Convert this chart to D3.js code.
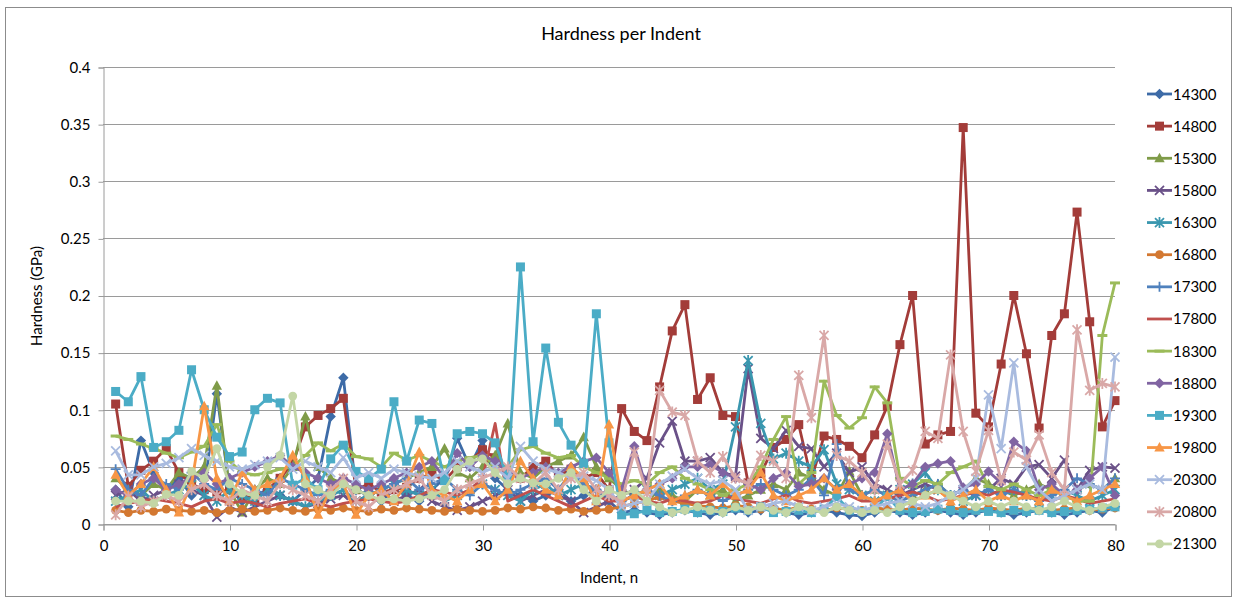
<!DOCTYPE html>
<html>
<head>
<meta charset="utf-8">
<script src="https://cdn.jsdelivr.net/npm/d3@7"></script>
<style>
  html, body { margin: 0; padding: 0; background: #fff; }
  svg { display: block; font-family: Lato, "Open Sans", "Liberation Sans", sans-serif; }
</style>
</head>
<body>
<svg id="chart" width="1235" height="601"></svg>
<script>
// Indent numbers 1..80
const indents = d3.range(1, 81);

const seriesNames = ["14300","14800","15300","15800","16300","16800","17300","17800",
                     "18300","18800","19300","19800","20300","20800","21300"];

const yTicks = [0, 0.05, 0.1, 0.15, 0.2, 0.25, 0.3, 0.35, 0.4];
const yTickLabels = ["0","0.05","0.1","0.15","0.2","0.25","0.3","0.35","0.4"];
const xTicks = [0, 10, 20, 30, 40, 50, 60, 70, 80];

// Hardness (GPa) per indent, one array per load
const h14300 = [
  0.030,0.015,0.073,0.045,0.030,0.040,0.025,0.030,0.114,0.030,
  0.020,0.025,0.030,0.025,0.020,0.030,0.040,0.094,0.128,0.030,
  0.025,0.020,0.030,0.025,0.020,0.030,0.040,0.075,0.050,0.073,
  0.040,0.030,0.025,0.020,0.025,0.030,0.020,0.025,0.030,0.020,
  0.010,0.012,0.010,0.008,0.010,0.012,0.010,0.008,0.010,0.012,
  0.010,0.012,0.015,0.010,0.008,0.010,0.012,0.010,0.008,0.007,
  0.010,0.012,0.010,0.008,0.010,0.012,0.010,0.008,0.010,0.012,
  0.010,0.008,0.010,0.012,0.010,0.008,0.010,0.012,0.010,0.015];
const h14800 = [
  0.105,0.033,0.047,0.055,0.066,0.045,0.035,0.030,0.028,0.030,
  0.025,0.022,0.030,0.040,0.053,0.085,0.095,0.101,0.110,0.030,
  0.035,0.028,0.030,0.032,0.040,0.044,0.038,0.050,0.055,0.065,
  0.058,0.045,0.040,0.050,0.055,0.042,0.048,0.040,0.045,0.030,
  0.101,0.081,0.073,0.120,0.169,0.192,0.109,0.128,0.095,0.094,
  0.036,0.044,0.067,0.074,0.087,0.039,0.077,0.074,0.068,0.058,
  0.078,0.103,0.157,0.200,0.070,0.078,0.081,0.347,0.097,0.085,
  0.140,0.200,0.149,0.084,0.165,0.184,0.273,0.177,0.085,0.108];
const h15300 = [
  0.040,0.030,0.025,0.035,0.030,0.045,0.040,0.050,0.121,0.030,
  0.010,0.030,0.040,0.035,0.050,0.094,0.050,0.040,0.035,0.030,
  0.025,0.030,0.035,0.040,0.045,0.050,0.066,0.045,0.040,0.050,
  0.060,0.088,0.045,0.040,0.050,0.055,0.060,0.076,0.050,0.040,
  0.030,0.025,0.020,0.030,0.025,0.020,0.030,0.025,0.030,0.020,
  0.025,0.030,0.035,0.030,0.045,0.040,0.030,0.025,0.046,0.025,
  0.030,0.025,0.020,0.025,0.030,0.035,0.025,0.030,0.040,0.035,
  0.030,0.025,0.030,0.035,0.030,0.025,0.030,0.035,0.030,0.040];
const h15800 = [
  0.025,0.030,0.020,0.025,0.030,0.035,0.030,0.025,0.006,0.015,
  0.010,0.015,0.020,0.025,0.020,0.015,0.018,0.022,0.025,0.020,
  0.025,0.030,0.020,0.025,0.030,0.020,0.015,0.012,0.015,0.020,
  0.025,0.030,0.020,0.025,0.030,0.025,0.020,0.010,0.015,0.020,
  0.025,0.030,0.040,0.071,0.090,0.055,0.055,0.058,0.045,0.042,
  0.136,0.075,0.066,0.082,0.068,0.066,0.050,0.062,0.045,0.050,
  0.035,0.030,0.025,0.030,0.035,0.030,0.025,0.030,0.025,0.030,
  0.040,0.035,0.050,0.052,0.040,0.056,0.030,0.047,0.050,0.049];
const h16300 = [
  0.020,0.025,0.030,0.020,0.025,0.030,0.035,0.025,0.020,0.030,
  0.025,0.020,0.030,0.025,0.020,0.015,0.020,0.025,0.030,0.020,
  0.025,0.030,0.035,0.030,0.025,0.030,0.020,0.025,0.030,0.035,
  0.030,0.025,0.020,0.030,0.035,0.025,0.030,0.035,0.030,0.025,
  0.020,0.025,0.030,0.025,0.030,0.035,0.040,0.030,0.035,0.085,
  0.143,0.088,0.057,0.062,0.055,0.050,0.065,0.035,0.030,0.025,
  0.020,0.025,0.030,0.035,0.045,0.030,0.025,0.020,0.025,0.030,
  0.025,0.030,0.025,0.020,0.025,0.030,0.025,0.020,0.025,0.030];
const h16800 = [
  0.012,0.010,0.012,0.011,0.013,0.012,0.011,0.012,0.010,0.012,
  0.013,0.011,0.012,0.014,0.012,0.011,0.013,0.012,0.014,0.012,
  0.011,0.013,0.012,0.014,0.013,0.012,0.011,0.013,0.012,0.011,
  0.012,0.014,0.013,0.015,0.014,0.012,0.013,0.011,0.012,0.013,
  0.015,0.018,0.020,0.024,0.020,0.018,0.016,0.015,0.014,0.016,
  0.015,0.013,0.014,0.012,0.015,0.013,0.012,0.014,0.013,0.012,
  0.014,0.013,0.012,0.014,0.013,0.012,0.014,0.013,0.012,0.014,
  0.013,0.012,0.014,0.013,0.012,0.013,0.014,0.012,0.013,0.014];
const h17300 = [
  0.048,0.030,0.025,0.040,0.035,0.030,0.045,0.035,0.030,0.040,
  0.035,0.030,0.025,0.040,0.035,0.030,0.025,0.030,0.035,0.030,
  0.025,0.030,0.035,0.040,0.030,0.035,0.040,0.030,0.025,0.035,
  0.030,0.025,0.030,0.035,0.040,0.030,0.045,0.035,0.030,0.025,
  0.020,0.025,0.030,0.025,0.020,0.025,0.030,0.025,0.020,0.025,
  0.030,0.035,0.030,0.025,0.030,0.040,0.025,0.070,0.030,0.025,
  0.030,0.025,0.020,0.025,0.030,0.035,0.025,0.030,0.025,0.030,
  0.025,0.030,0.025,0.020,0.025,0.030,0.040,0.035,0.030,0.040];
const h17800 = [
  0.015,0.018,0.020,0.022,0.020,0.018,0.015,0.020,0.022,0.018,
  0.020,0.018,0.015,0.018,0.020,0.022,0.018,0.015,0.018,0.020,
  0.022,0.020,0.018,0.020,0.025,0.030,0.028,0.025,0.030,0.040,
  0.088,0.020,0.025,0.030,0.025,0.020,0.015,0.020,0.025,0.020,
  0.020,0.025,0.020,0.018,0.022,0.020,0.018,0.020,0.025,0.022,
  0.020,0.018,0.022,0.025,0.020,0.018,0.020,0.022,0.025,0.020,
  0.020,0.022,0.025,0.028,0.025,0.020,0.022,0.025,0.028,0.025,
  0.030,0.028,0.025,0.022,0.020,0.025,0.022,0.018,0.020,0.022];
const h18300 = [
  0.077,0.074,0.070,0.066,0.062,0.058,0.063,0.068,0.087,0.055,
  0.045,0.043,0.045,0.048,0.050,0.060,0.071,0.064,0.070,0.059,
  0.057,0.050,0.062,0.056,0.060,0.055,0.050,0.055,0.058,0.060,
  0.052,0.050,0.065,0.068,0.062,0.058,0.060,0.050,0.045,0.040,
  0.035,0.038,0.035,0.045,0.050,0.040,0.035,0.030,0.025,0.030,
  0.035,0.050,0.074,0.094,0.035,0.045,0.125,0.095,0.084,0.093,
  0.120,0.106,0.040,0.033,0.038,0.035,0.045,0.050,0.055,0.033,
  0.030,0.035,0.030,0.025,0.030,0.025,0.020,0.020,0.165,0.211];
const h18800 = [
  0.030,0.025,0.035,0.040,0.030,0.035,0.040,0.045,0.035,0.040,
  0.045,0.050,0.055,0.060,0.050,0.045,0.040,0.035,0.040,0.035,
  0.030,0.035,0.040,0.045,0.050,0.055,0.040,0.062,0.050,0.060,
  0.055,0.045,0.040,0.045,0.050,0.045,0.050,0.055,0.058,0.045,
  0.030,0.068,0.030,0.035,0.040,0.050,0.050,0.052,0.045,0.040,
  0.035,0.030,0.040,0.045,0.033,0.035,0.040,0.030,0.035,0.040,
  0.045,0.079,0.030,0.035,0.050,0.053,0.055,0.032,0.035,0.046,
  0.036,0.072,0.064,0.030,0.035,0.025,0.030,0.040,0.050,0.025];
const h19300 = [
  0.116,0.107,0.129,0.067,0.072,0.082,0.135,0.100,0.076,0.059,
  0.063,0.100,0.110,0.106,0.034,0.040,0.030,0.057,0.069,0.046,
  0.040,0.048,0.107,0.055,0.091,0.088,0.038,0.079,0.081,0.079,
  0.071,0.040,0.225,0.072,0.154,0.089,0.069,0.053,0.184,0.071,
  0.008,0.009,0.012,0.010,0.011,0.013,0.010,0.012,0.011,0.014,
  0.012,0.015,0.010,0.011,0.012,0.010,0.013,0.024,0.012,0.011,
  0.013,0.024,0.012,0.010,0.011,0.013,0.012,0.010,0.012,0.011,
  0.010,0.012,0.011,0.012,0.010,0.011,0.012,0.013,0.014,0.015];
const h19800 = [
  0.043,0.025,0.035,0.050,0.030,0.010,0.035,0.103,0.040,0.020,
  0.045,0.030,0.035,0.040,0.060,0.040,0.008,0.030,0.035,0.008,
  0.025,0.030,0.020,0.035,0.063,0.030,0.025,0.020,0.030,0.035,
  0.020,0.030,0.055,0.040,0.030,0.025,0.050,0.040,0.020,0.087,
  0.020,0.025,0.030,0.035,0.020,0.025,0.030,0.025,0.035,0.025,
  0.030,0.045,0.025,0.020,0.025,0.030,0.040,0.030,0.035,0.025,
  0.020,0.025,0.030,0.020,0.025,0.030,0.020,0.025,0.030,0.020,
  0.025,0.020,0.025,0.020,0.030,0.025,0.020,0.025,0.030,0.035];
const h20300 = [
  0.064,0.043,0.043,0.050,0.053,0.058,0.066,0.060,0.055,0.050,
  0.048,0.052,0.055,0.058,0.048,0.055,0.050,0.045,0.058,0.040,
  0.045,0.040,0.048,0.045,0.042,0.040,0.045,0.055,0.050,0.045,
  0.050,0.040,0.068,0.055,0.048,0.045,0.040,0.042,0.038,0.030,
  0.015,0.018,0.020,0.035,0.042,0.048,0.040,0.035,0.038,0.030,
  0.012,0.015,0.018,0.020,0.015,0.012,0.015,0.018,0.015,0.012,
  0.015,0.018,0.020,0.018,0.015,0.018,0.025,0.030,0.040,0.113,
  0.066,0.141,0.050,0.030,0.020,0.025,0.030,0.035,0.030,0.146];
const h20800 = [
  0.008,0.024,0.015,0.020,0.025,0.020,0.030,0.035,0.025,0.020,
  0.030,0.025,0.020,0.035,0.030,0.025,0.020,0.030,0.040,0.020,
  0.015,0.025,0.030,0.035,0.040,0.025,0.020,0.030,0.035,0.040,
  0.045,0.050,0.040,0.035,0.045,0.030,0.040,0.045,0.030,0.025,
  0.020,0.063,0.027,0.117,0.098,0.095,0.055,0.045,0.059,0.040,
  0.035,0.060,0.055,0.040,0.130,0.093,0.165,0.060,0.055,0.045,
  0.030,0.070,0.035,0.047,0.081,0.075,0.148,0.081,0.046,0.082,
  0.038,0.063,0.056,0.078,0.045,0.030,0.170,0.117,0.123,0.120];
const h21300 = [
  0.020,0.020,0.020,0.018,0.026,0.025,0.046,0.040,0.066,0.035,
  0.027,0.025,0.050,0.060,0.112,0.035,0.030,0.025,0.035,0.030,
  0.025,0.021,0.022,0.020,0.022,0.025,0.030,0.048,0.055,0.057,
  0.045,0.035,0.040,0.036,0.035,0.040,0.045,0.030,0.020,0.030,
  0.025,0.030,0.020,0.015,0.010,0.012,0.015,0.012,0.010,0.015,
  0.012,0.015,0.012,0.010,0.015,0.012,0.010,0.015,0.012,0.010,
  0.012,0.010,0.015,0.020,0.025,0.030,0.025,0.020,0.015,0.020,
  0.015,0.020,0.015,0.012,0.015,0.020,0.015,0.012,0.015,0.018];

const seriesValues = [h14300,h14800,h15300,h15800,h16300,h16800,h17300,h17800,
                      h18300,h18800,h19300,h19800,h20300,h20800,h21300];

// Styling per series: colour and marker shape
const seriesColors = ["#3d6ba7","#a33c39","#7f9b48","#6a5188","#3a97af","#d37831","#4f81bd","#c0504d",
                      "#9bbb59","#8064a2","#4bacc6","#f79646","#a9bbdf","#d9a8a7","#c3d6a5"];
const seriesMarkers = ["diamond","square","triangle","x","asterisk","circle","plus","none",
                       "dash","diamond","square","triangle","x","asterisk","circle"];

const svg = d3.select("#chart");
const W = 1235, H = 601;
const plot = { left: 103, right: 1115, top: 67, bottom: 524 };

const x = d3.scaleLinear().domain([0, 80]).range([plot.left, plot.right]);
const y = d3.scaleLinear().domain([0, 0.4]).range([plot.bottom, plot.top]);

// chart frame
svg.append("rect")
  .attr("x", 5.5).attr("y", 7.5).attr("width", W - 9).attr("height", H - 12)
  .attr("fill", "#fff").attr("stroke", "#8c8c8c").attr("stroke-width", 1);

// title
svg.append("text")
  .attr("x", 621).attr("y", 40)
  .attr("text-anchor", "middle")
  .attr("font-size", 18).attr("fill", "#000")
  .text("Hardness per Indent");

// horizontal gridlines
svg.append("g")
  .selectAll("line").data(yTicks).join("line")
  .attr("x1", plot.left).attr("x2", plot.right)
  .attr("y1", d => Math.round(y(d)) + 0.5).attr("y2", d => Math.round(y(d)) + 0.5)
  .attr("stroke", "#9a9a9a").attr("stroke-width", 1);

// y axis
const yAxis = d3.axisLeft(y).tickValues(yTicks)
  .tickFormat((d, i) => yTickLabels[i]).tickSize(5).tickPadding(8);
const gy = svg.append("g").attr("transform", `translate(${plot.left + 0.5},0.5)`).call(yAxis);
gy.select(".domain").attr("stroke", "#9a9a9a");
gy.selectAll(".tick line").attr("stroke", "#9a9a9a");
gy.selectAll(".tick text").attr("font-size", 15).attr("fill", "#000")
  .attr("font-family", "Lato, 'Open Sans', sans-serif");

// x axis
const xAxis = d3.axisBottom(x).tickValues(xTicks).tickSize(6).tickPadding(10).tickFormat(d3.format("d"));
const gx = svg.append("g").attr("transform", `translate(0.5,${plot.bottom + 0.5})`).call(xAxis);
gx.select(".domain").attr("stroke", "#9a9a9a");
gx.selectAll(".tick line").attr("stroke", "#9a9a9a");
gx.selectAll(".tick text").attr("font-size", 15).attr("fill", "#000")
  .attr("font-family", "Lato, 'Open Sans', sans-serif");

// axis titles
svg.append("text")
  .attr("transform", "translate(42,296) rotate(-90)")
  .attr("text-anchor", "middle").attr("font-size", 15).attr("fill", "#000")
  .text("Hardness (GPa)");
svg.append("text")
  .attr("x", 609).attr("y", 583)
  .attr("text-anchor", "middle").attr("font-size", 15).attr("fill", "#000")
  .text("Indent, n");

// marker drawing
function drawMarker(g, shape, color) {
  switch (shape) {
    case "diamond":
      g.append("path").attr("d", "M0,-5.2L5.2,0L0,5.2L-5.2,0Z").attr("fill", color); break;
    case "square":
      g.append("rect").attr("x", -4.5).attr("y", -4.5).attr("width", 9).attr("height", 9).attr("fill", color); break;
    case "triangle":
      g.append("path").attr("d", "M0,-5.6L5.2,4L-5.2,4Z").attr("fill", color); break;
    case "circle":
      g.append("circle").attr("r", 4.4).attr("fill", color); break;
    case "x":
      g.append("path").attr("d", "M-4.5,-4.5L4.5,4.5M-4.5,4.5L4.5,-4.5").attr("stroke", color).attr("stroke-width", 1.8).attr("fill", "none"); break;
    case "asterisk":
      g.append("path").attr("d", "M-4.5,-4.5L4.5,4.5M-4.5,4.5L4.5,-4.5M0,-5.5L0,5.5").attr("stroke", color).attr("stroke-width", 1.8).attr("fill", "none"); break;
    case "plus":
      g.append("path").attr("d", "M-5,0L5,0M0,-5L0,5").attr("stroke", color).attr("stroke-width", 1.8).attr("fill", "none"); break;
    case "dash":
      g.append("path").attr("d", "M-5,0L5,0").attr("stroke", color).attr("stroke-width", 3).attr("fill", "none"); break;
    default: break;
  }
}

const line = d3.line().x((d, i) => x(indents[i])).y(d => y(d));

const seriesG = svg.append("g");
seriesNames.forEach((name, si) => {
  const g = seriesG.append("g").attr("class", "series s" + name);
  const vals = seriesValues[si];
  g.append("path").datum(vals)
    .attr("d", line)
    .attr("fill", "none")
    .attr("stroke", seriesColors[si])
    .attr("stroke-width", 2.8)
    .attr("stroke-linejoin", "round");
  if (seriesMarkers[si] !== "none") {
    vals.forEach((v, i) => {
      const m = g.append("g").attr("transform", `translate(${x(indents[i])},${y(v)})`);
      drawMarker(m, seriesMarkers[si], seriesColors[si]);
    });
  }
});

// legend
const legend = svg.append("g");
seriesNames.forEach((name, si) => {
  const ly = 94 + si * 32.14;
  const g = legend.append("g").attr("transform", `translate(0,${ly})`);
  g.append("line").attr("x1", 1147).attr("x2", 1172).attr("y1", 0).attr("y2", 0)
    .attr("stroke", seriesColors[si]).attr("stroke-width", 2.8);
  const m = g.append("g").attr("transform", "translate(1159.5,0)");
  drawMarker(m, seriesMarkers[si], seriesColors[si]);
  g.append("text").attr("x", 1173).attr("y", 5.5)
    .attr("font-size", 15).attr("fill", "#000").text(name);
});
</script>
</body>
</html>
